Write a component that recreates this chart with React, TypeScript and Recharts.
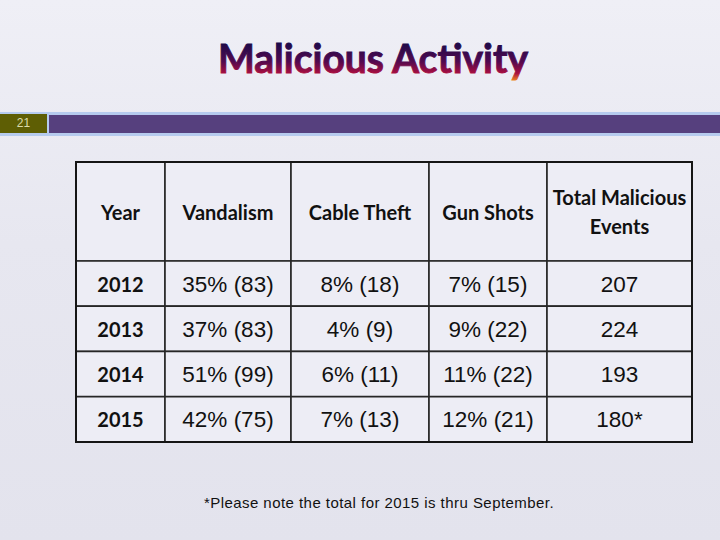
import React from "react"
import { BarChart, Bar, XAxis, YAxis, LabelList } from "recharts"

// Table contents
const headers = ["Year", "Vandalism", "Cable Theft", "Gun Shots", "Total Malicious\nEvents"]
const years = ["2012", "2013", "2014", "2015"]
const vandalism = ["35% (83)", "37% (83)", "51% (99)", "42% (75)"]
const cableTheft = ["8% (18)", "4% (9)", "6% (11)", "7% (13)"]
const gunShots = ["7% (15)", "9% (22)", "11% (22)", "12% (21)"]
const totals = ["207", "224", "193", "180*"]

// layout (relative column widths of the table)
const colWidths = [89, 126, 138, 118, 145]
const tableWidth = colWidths.reduce((a, b) => a + b, 0)
const cellFill = "#ededf5"
const lineColor = "#262626"

const headerRows = [
  Object.assign(
    { row: "header" },
    ...colWidths.map((w, i) => ({ ["w" + i]: w, ["t" + i]: headers[i] }))
  ),
]

const bodyRows = years.map((y, r) => {
  const texts = [y, vandalism[r], cableTheft[r], gunShots[r], totals[r]]
  return Object.assign(
    { row: y },
    ...colWidths.map((w, i) => ({ ["w" + i]: w, ["t" + i]: texts[i] }))
  )
})

const makeCell = (bold: boolean, size: number, family: string) => (props: any) => {
  const { x, y, width, height, value } = props
  const lines = String(value).split("\n")
  const lh = 29
  const cx = x + width / 2
  const cy = y + height / 2 - ((lines.length - 1) * lh) / 2
  return (
    <text
      x={cx}
      y={cy}
      textAnchor="middle"
      dominantBaseline="central"
      fontFamily={family}
      fontWeight={bold ? 700 : 400}
      fontSize={size}
      fill="#111"
    >
      {lines.map((l, i) => (
        <tspan key={i} x={cx} y={cy + i * lh} dominantBaseline="central">
          {l}
        </tspan>
      ))}
    </text>
  )
}

const boldCell = makeCell(true, 20, "Lato, 'DejaVu Sans', sans-serif")
const plainCell = makeCell(false, 22.5, "'Liberation Sans', Arial, sans-serif")

function TableChart({ data, height, header }: { data: any[]; height: number; header: boolean }) {
  return (
    <BarChart
      layout="vertical"
      width={tableWidth + 2}
      height={height + 2}
      data={data}
      margin={{ top: 1, right: 1, bottom: 1, left: 1 }}
      barCategoryGap={0}
    >
      <XAxis type="number" hide domain={[0, tableWidth]} />
      <YAxis type="category" dataKey="row" hide />
      {colWidths.map((_, i) => (
        <Bar
          key={i}
          dataKey={"w" + i}
          stackId="t"
          fill={cellFill}
          stroke={lineColor}
          strokeWidth={1.6}
          isAnimationActive={false}
        >
          <LabelList dataKey={"t" + i} content={header || i === 0 ? boldCell : plainCell} />
        </Bar>
      ))}
    </BarChart>
  )
}

export default function App() {
  return (
    <div
      style={{
        position: "absolute",
        left: 0,
        top: 0,
        width: 720,
        height: 540,
        overflow: "hidden",
        background: "linear-gradient(180deg, #efeff6 0%, #e7e7f0 45%, #e3e3ed 100%)",
      }}
    >
      {/* title */}
      <svg width={720} height={100} style={{ position: "absolute", left: 0, top: 0 }}>
        <defs>
          <linearGradient id="titleGrad" x1="0" y1="42" x2="0" y2="81" gradientUnits="userSpaceOnUse">
            <stop offset="0" stopColor="#1a0a48" />
            <stop offset="0.5" stopColor="#52094f" />
            <stop offset="0.8" stopColor="#a80f40" />
            <stop offset="1" stopColor="#f08a1c" />
          </linearGradient>
        </defs>
        <text
          x={373}
          y={73}
          textAnchor="middle"
          fontFamily="Lato, 'Open Sans', sans-serif"
          fontWeight={700}
          fontSize={40}
          textLength={310}
          lengthAdjust="spacingAndGlyphs"
          fill="url(#titleGrad)"
          stroke="url(#titleGrad)"
          strokeWidth={0.9}
        >
          Malicious Activity
        </text>
      </svg>

      {/* slide number band */}
      <div style={{ position: "absolute", left: 0, top: 112, width: 720, height: 24, background: "#b6cbee" }} />
      <div
        style={{
          position: "absolute",
          left: 0,
          top: 114,
          width: 47,
          height: 19,
          background: "#5e5e04",
          color: "#dcdcaa",
          fontFamily: "'Liberation Sans', Arial, sans-serif",
          fontSize: 12,
          lineHeight: "19px",
          textAlign: "center",
        }}
      >
        21
      </div>
      <div style={{ position: "absolute", left: 49, top: 115, width: 671, height: 18, background: "#56407e" }} />

      {/* table */}
      <div style={{ position: "absolute", left: 75, top: 161 }}>
        <TableChart data={headerRows} height={99} header={true} />
      </div>
      <div style={{ position: "absolute", left: 75, top: 260 }}>
        <TableChart data={bodyRows} height={181} header={false} />
      </div>
      <div
        style={{
          position: "absolute",
          left: 75,
          top: 161,
          width: 618,
          height: 282,
          border: "2px solid #151515",
          boxSizing: "border-box",
          pointerEvents: "none",
        }}
      />

      {/* footnote */}
      <div
        style={{
          position: "absolute",
          left: 0,
          top: 494,
          width: 758,
          textAlign: "center",
          fontFamily: "'Liberation Sans', Arial, sans-serif",
          fontSize: 15,
          letterSpacing: 0.45,
          color: "#111",
        }}
      >
        *Please note the total for 2015 is thru September.
      </div>
    </div>
  )
}
